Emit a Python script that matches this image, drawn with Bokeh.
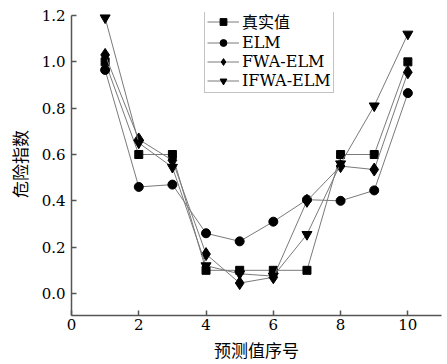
from bokeh.plotting import figure
from bokeh.models import Range1d, FixedTicker, PrintfTickFormatter, Legend, LegendItem
from bokeh.embed import file_html
from bokeh.resources import INLINE

x_idx = [1, 2, 3, 4, 5, 6, 7, 8, 9, 10]
true_vals = [1.0, 0.6, 0.6, 0.1, 0.1, 0.1, 0.1, 0.6, 0.6, 1.0]
elm_vals = [0.965, 0.46, 0.47, 0.26, 0.225, 0.31, 0.405, 0.40, 0.445, 0.865]
fwa_vals = [1.03, 0.665, 0.575, 0.17, 0.045, 0.07, 0.40, 0.55, 0.535, 0.955]
ifwa_vals = [1.19, 0.65, 0.545, 0.12, 0.085, 0.075, 0.255, 0.56, 0.81, 1.12]
series_names = ["真实值", "ELM", "FWA-ELM", "IFWA-ELM"]
x_ticks = [0, 2, 4, 6, 8, 10]
y_ticks = [0.0, 0.2, 0.4, 0.6, 0.8, 1.0, 1.2]
x_title = "预测值序号"
y_title = "危险指数"

SERIF = "'DejaVu Serif', 'Noto Sans CJK SC'"
CJK = "Noto Sans CJK SC"

p = figure(width=445, height=364, output_backend="svg", toolbar_location=None,
           x_range=Range1d(0, 11), y_range=Range1d(-0.095, 1.213),
           min_border_left=71, min_border_right=4, min_border_top=12, min_border_bottom=49)
p.outline_line_color = None
p.xgrid.visible = False
p.ygrid.visible = False
p.background_fill_color = "white"
p.border_fill_color = "white"

for ax in (p.xaxis[0], p.yaxis[0]):
    ax.axis_line_color = "#555555"
    ax.axis_line_width = 1.5
    ax.major_tick_line_color = "#555555"
    ax.major_tick_line_width = 1.5
    ax.major_tick_in = 5
    ax.major_tick_out = 0
    ax.minor_tick_line_color = None
    ax.major_label_text_font = SERIF
    ax.major_label_text_font_size = "15px"
    ax.major_label_text_color = "black"
    ax.axis_label_text_font = CJK
    ax.axis_label_text_font_size = "17px"
    ax.axis_label_text_font_style = "normal"
    ax.axis_label_text_color = "black"

p.yaxis[0].bounds = (-1, 1.2)
p.xaxis[0].ticker = FixedTicker(ticks=x_ticks)
p.yaxis[0].ticker = FixedTicker(ticks=y_ticks)
p.yaxis[0].formatter = PrintfTickFormatter(format="%.1f")
p.xaxis[0].axis_label = x_title
p.yaxis[0].axis_label = y_title
p.xaxis[0].major_label_standoff = 3
p.yaxis[0].major_label_standoff = 6
p.xaxis[0].axis_label_standoff = 4
p.yaxis[0].axis_label_standoff = 7

line_color = "#7a7a7a"
markers = ["square", "circle", "diamond", "inverted_triangle"]
sizes = [8, 9, 13, 10]
data = [true_vals, elm_vals, fwa_vals, ifwa_vals]
items = []
for name, vals, mk, sz in zip(series_names, data, markers, sizes):
    r1 = p.line(x_idx, vals, line_color=line_color, line_width=1)
    r2 = p.scatter(x_idx, vals, marker=mk, size=sz, fill_color="black", line_color="black")
    items.append(LegendItem(label=name, renderers=[r1, r2]))

legend = Legend(items=items, location=(133, 222))
legend.label_text_font = SERIF
legend.label_text_font_size = "16px"
legend.label_text_color = "black"
legend.glyph_width = 32
legend.glyph_height = 17
legend.label_height = 17
legend.label_standoff = 3
legend.spacing = 0
legend.padding = 2
legend.margin = 0
legend.border_line_color = "#888888"
legend.border_line_width = 1
legend.background_fill_alpha = 1
p.add_layout(legend, "center")

open("out.html", "w").write(file_html(p, INLINE))
